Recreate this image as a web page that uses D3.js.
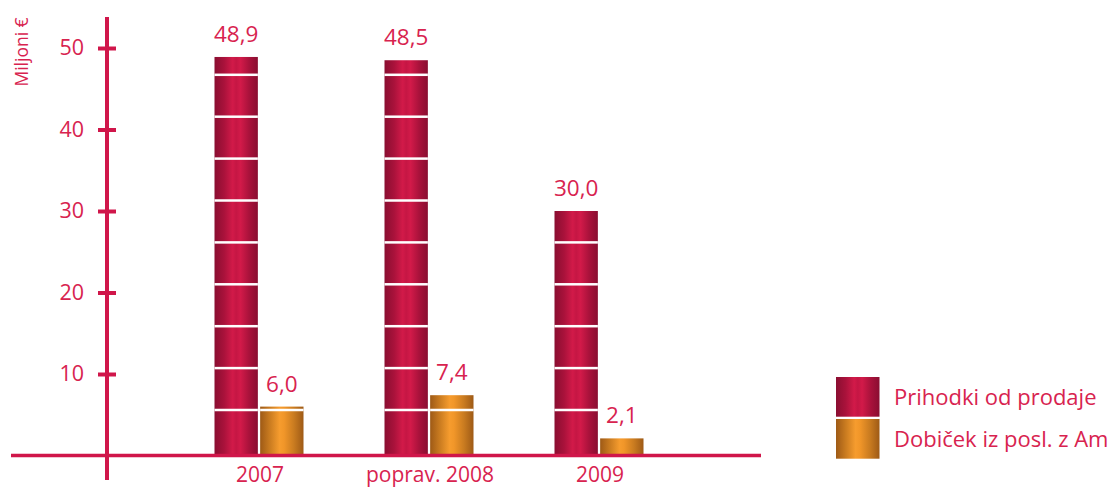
<!DOCTYPE html>
<html>
<head>
<meta charset="utf-8">
<script src="https://cdn.jsdelivr.net/npm/d3@7"></script>
<style>
  html, body { margin: 0; padding: 0; background: #ffffff; overflow: hidden; }
  svg { display: block; font-family: "Open Sans", "Noto Sans", sans-serif; }
</style>
</head>
<body>
<svg id="chart" width="1119" height="488"></svg>
<script>
// Categories, series and values
const categories = ["2007", "poprav. 2008", "2009"];
const seriesNames = ["Prihodki od prodaje", "Dobiček iz posl. z Am"];
const revenue = [48.9, 48.5, 30.0];
const profit = [6.0, 7.4, 2.1];
const yTicks = [10, 20, 30, 40, 50];
const yUnit = "Miljoni €";

const fmt = v => d3.format(".1f")(v).replace(".", ",");

const W = 1119, H = 488;
const svg = d3.select("#chart");
const ink = "#d0164a";
const textInk = "#d8234f";

// Horizontal gradients for the bar fills
const defs = svg.append("defs");
function gradient(id, stops) {
  const g = defs.append("linearGradient").attr("id", id)
    .attr("x1", "0%").attr("x2", "100%").attr("y1", "0%").attr("y2", "0%");
  stops.forEach(([o, c]) => g.append("stop").attr("offset", o).attr("stop-color", c));
}
gradient("gRed", [[0, "#8a0e31"], [0.22, "#a9123b"], [0.42, "#d21a49"], [0.5, "#c51644"], [0.6, "#d21a49"], [0.8, "#a9123b"], [1, "#8a0e31"]]);
gradient("gOrange", [[0, "#9e5a16"], [0.22, "#c97b20"], [0.45, "#f69c2e"], [0.55, "#f19629"], [0.78, "#c97b20"], [1, "#9e5a16"]]);
const fills = ["url(#gRed)", "url(#gOrange)"];

// Scales
const y = d3.scaleLinear().domain([0, 50]).range([455.5, 48]);
const x = d3.scalePoint().domain(categories).range([259, 599]);
const xs = d3.scaleBand().domain(seriesNames).range([-44.5, 44.5]).paddingInner(0.05);

const rows = categories.map((c, i) => ({ cat: c, values: [revenue[i], profit[i]] }));

// Bars
const barsG = svg.append("g");
const stripeStep = 41.9, stripeOffset = 45.5;
rows.forEach(r => {
  r.values.forEach((v, si) => {
    const bx = x(r.cat) + xs(seriesNames[si]);
    const bw = xs.bandwidth();
    const top = y(v);
    barsG.append("rect")
      .attr("x", bx).attr("y", top)
      .attr("width", bw).attr("height", y(0) - top)
      .attr("fill", fills[si]);
    // decorative white bands across the bar
    for (let sy = y(0) - stripeOffset; sy > top + 2; sy -= stripeStep) {
      barsG.append("rect")
        .attr("x", bx).attr("y", sy - 1.25)
        .attr("width", bw).attr("height", 2.5)
        .attr("fill", "#ffffff");
    }
    svg.append("text")
      .attr("x", bx + bw / 2).attr("y", top - 15)
      .attr("text-anchor", "middle")
      .attr("font-size", 22.5)
      .attr("fill", textInk)
      .text(fmt(v));
  });
});

// Baseline
svg.append("line")
  .attr("x1", 11).attr("x2", 761)
  .attr("y1", y(0)).attr("y2", y(0))
  .attr("stroke", ink).attr("stroke-width", 3.5);

// Y axis
const yAxis = d3.axisLeft(y).tickValues(yTicks).tickSize(9).tickPadding(14).tickSizeOuter(0);
const ag = svg.append("g").attr("transform", "translate(107,0)").call(yAxis);
ag.select(".domain").remove();
ag.selectAll(".tick line")
  .attr("x1", -9).attr("x2", 9)
  .attr("stroke", ink).attr("stroke-width", 4);
ag.selectAll(".tick text")
  .attr("font-size", 21.5)
  .attr("fill", textInk)
  .attr("font-family", "'Open Sans', sans-serif");
ag.append("line")
  .attr("x1", 0).attr("x2", 0)
  .attr("y1", 17).attr("y2", 480)
  .attr("stroke", ink).attr("stroke-width", 4);

// Unit label
svg.append("text")
  .attr("transform", "translate(28,52) rotate(-90)")
  .attr("text-anchor", "middle")
  .attr("font-size", 17.5)
  .attr("fill", textInk)
  .text(yUnit);

// Category labels
svg.append("g").selectAll("text").data(categories).join("text")
  .attr("x", d => x(d) + 1)
  .attr("y", 482)
  .attr("text-anchor", "middle")
  .attr("font-size", 21)
  .attr("fill", textInk)
  .text(d => d);

// Legend
const legend = svg.append("g");
seriesNames.forEach((s, i) => {
  const ly = 377 + i * 42;
  legend.append("rect")
    .attr("x", 836).attr("y", ly)
    .attr("width", 43.5).attr("height", 39.7)
    .attr("fill", fills[i]);
  legend.append("text")
    .attr("x", 894).attr("y", ly + 27.5)
    .attr("font-size", 22)
    .attr("fill", textInk)
    .text(s);
});
</script>
</body>
</html>
